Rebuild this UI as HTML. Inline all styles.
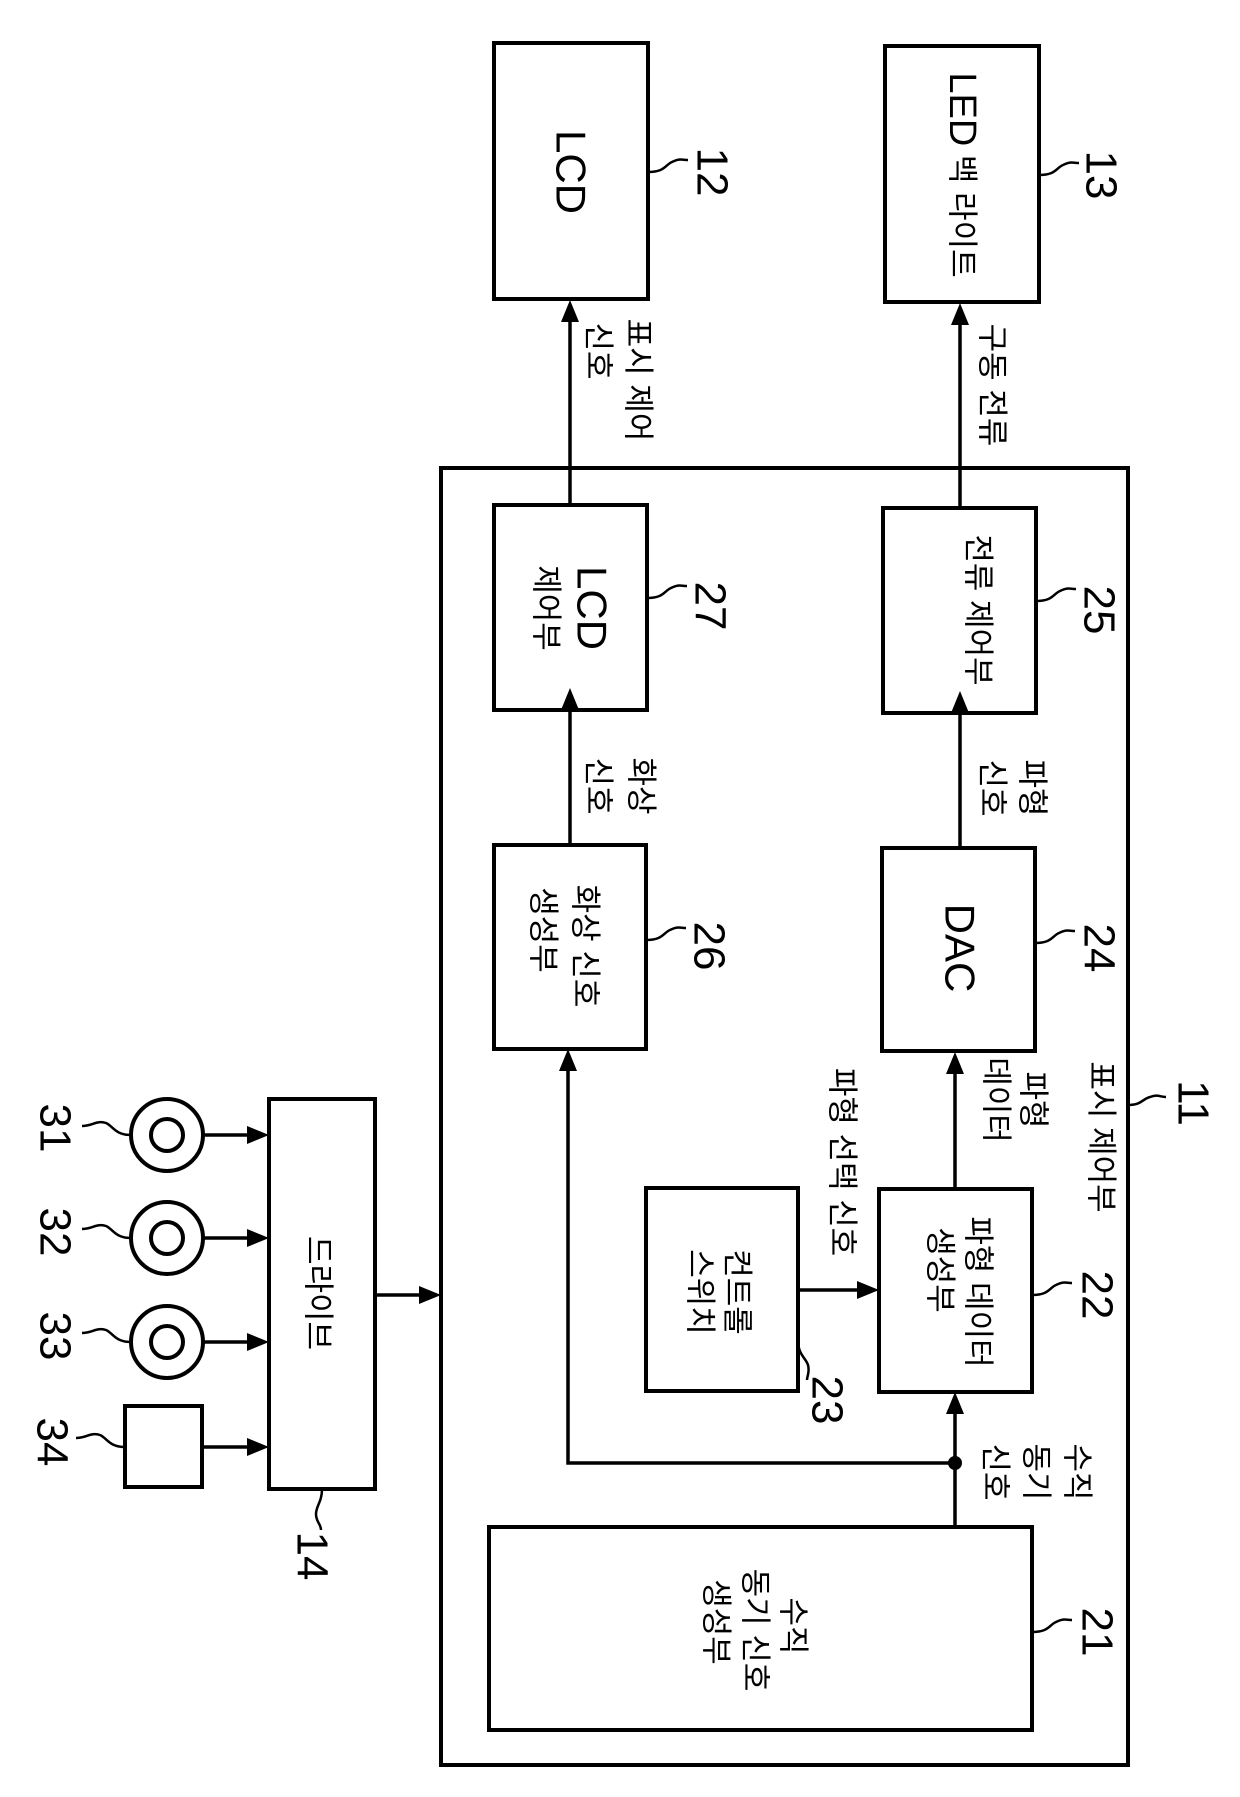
<!DOCTYPE html>
<html><head><meta charset="utf-8"><style>
html,body{margin:0;padding:0;background:#fff;}
svg{display:block;}
text{font-family:"Liberation Sans","Noto Sans CJK KR",sans-serif;fill:#000;}
.k{font-size:31px;}
.n{font-size:44px;}
</style></head><body>
<svg width="1240" height="1797" viewBox="0 0 1240 1797" xmlns="http://www.w3.org/2000/svg">
<g fill="none" stroke="#000" stroke-width="4">
<rect x="441" y="468" width="687" height="1297"/>
<rect x="494" y="43" width="154" height="256"/>
<rect x="885" y="46" width="154" height="256"/>
<rect x="494" y="505" width="153" height="205"/>
<rect x="883" y="508" width="153" height="205"/>
<rect x="494" y="845" width="152" height="204"/>
<rect x="882" y="848" width="153" height="203"/>
<rect x="879" y="1189" width="153" height="203"/>
<rect x="646" y="1188" width="152" height="203"/>
<rect x="489" y="1527" width="543" height="203"/>
<rect x="269" y="1099" width="106" height="390"/>
<rect x="125" y="1406" width="77" height="81"/>
<circle cx="167" cy="1135" r="36"/><circle cx="167" cy="1135" r="16"/>
<circle cx="167" cy="1238" r="36"/><circle cx="167" cy="1238" r="16"/>
<circle cx="167" cy="1342" r="36"/><circle cx="167" cy="1342" r="16"/>
</g>
<g stroke="#000" stroke-width="3.5" fill="none">
<line x1="570" y1="505" x2="570" y2="315"/>
<line x1="960" y1="508" x2="960" y2="318"/>
<line x1="570" y1="845" x2="570" y2="705"/>
<line x1="960" y1="848" x2="960" y2="708"/>
<line x1="955" y1="1189" x2="955" y2="1068"/>
<line x1="955" y1="1527" x2="955" y2="1409"/>
<polyline points="955,1463 568,1463 568,1066"/>
<line x1="798" y1="1290" x2="860" y2="1290"/>
<line x1="375" y1="1295" x2="422" y2="1295"/>
<line x1="203" y1="1135" x2="250" y2="1135"/>
<line x1="203" y1="1238" x2="250" y2="1238"/>
<line x1="203" y1="1342" x2="250" y2="1342"/>
<line x1="202" y1="1447" x2="250" y2="1447"/>
</g>
<g fill="#000">
<polygon points="570,300 561,322 579,322"/>
<polygon points="960,303 951,325 969,325"/>
<polygon points="570,688 561,710 579,710"/>
<polygon points="960,691 951,713 969,713"/>
<polygon points="568,1049 559,1071 577,1071"/>
<polygon points="955,1052 946,1074 964,1074"/>
<polygon points="955,1392 946,1414 964,1414"/>
<polygon points="879,1290 857,1281 857,1299"/>
<polygon points="441,1295 419,1286 419,1304"/>
<polygon points="269,1135 247,1126 247,1144"/>
<polygon points="269,1238 247,1229 247,1247"/>
<polygon points="269,1342 247,1333 247,1351"/>
<polygon points="269,1447 247,1438 247,1456"/>
<circle cx="955" cy="1463" r="7"/>
</g>
<g fill="none" stroke="#000" stroke-width="2.5">
<path d="M648,172 C665,172 665,165 672,162 C680,158 682,160 688,160"/>
<path d="M1039,175 C1056,175 1056,168 1063,165 C1071,161 1073,163 1079,163"/>
<path d="M647,598 C664,598 664,591 671,588 C679,584 681,586 687,586"/>
<path d="M1036,601 C1053,601 1053,594 1060,591 C1068,587 1070,589 1076,589"/>
<path d="M646,940 C663,940 663,933 670,930 C678,926 680,928 686,928"/>
<path d="M1035,943 C1052,943 1052,936 1059,933 C1067,929 1069,931 1075,931"/>
<path d="M1032,1295 C1049,1295 1049,1288 1056,1285 C1064,1281 1066,1283 1072,1283"/>
<path d="M1032,1632 C1049,1632 1049,1625 1056,1622 C1064,1618 1066,1620 1072,1620"/>
<path d="M1128,1105 C1142,1105 1142,1099 1150,1097 C1158,1094 1160,1097 1166,1097"/>
<path d="M798,1340 C798,1355 806,1358 808,1365 C810,1372 807,1376 807,1380"/>
<path d="M322,1489 C322,1502 316,1506 316,1514 C316,1522 321,1524 321,1530"/>
<path d="M131,1135 C115,1135 113,1126 106,1123 C97,1120 92,1126 82,1126"/>
<path d="M131,1238 C115,1238 113,1229 106,1226 C97,1223 92,1229 82,1229"/>
<path d="M131,1342 C115,1342 113,1333 106,1330 C97,1327 92,1333 82,1333"/>
<path d="M125,1447 C109,1447 107,1438 100,1435 C91,1432 86,1438 76,1438"/>
</g>
<g dominant-baseline="central" text-anchor="middle">
<text transform="translate(571,172) rotate(90)" style="font-size:42px">LCD</text>
<text transform="translate(962,175) rotate(90)" style="font-size:31px"><tspan style="font-size:38px">LED</tspan> 백 라이트</text>
<text class="n" transform="translate(712,172) rotate(90)">12</text>
<text class="n" transform="translate(1101,175) rotate(90)">13</text>
<text class="k" transform="translate(638,380) rotate(90)">표시 제어</text>
<text class="k" transform="translate(598,351) rotate(90)">신호</text>
<text class="k" transform="translate(992,385) rotate(90)">구동 전류</text>
<text transform="translate(592,608) rotate(90)" style="font-size:42px">LCD</text>
<text class="k" transform="translate(546,608) rotate(90)">제어부</text>
<text class="k" transform="translate(978,610) rotate(90)">전류 제어부</text>
<text class="n" transform="translate(710,606) rotate(90)">27</text>
<text class="n" transform="translate(1099,610) rotate(90)">25</text>
<text class="k" transform="translate(641,786) rotate(90)">화상</text>
<text class="k" transform="translate(598,786) rotate(90)">신호</text>
<text class="k" transform="translate(1032,788) rotate(90)">파형</text>
<text class="k" transform="translate(992,788) rotate(90)">신호</text>
<text class="k" transform="translate(585,946) rotate(90)">화상 신호</text>
<text class="k" transform="translate(543,930) rotate(90)">생성부</text>
<text transform="translate(960,948) rotate(90)" style="font-size:42px">DAC</text>
<text class="n" transform="translate(709,946) rotate(90)">26</text>
<text class="n" transform="translate(1099,948) rotate(90)">24</text>
<text class="k" transform="translate(1101,1137) rotate(90)">표시 제어부</text>
<text class="n" transform="translate(1193,1103) rotate(90)">11</text>
<text class="k" transform="translate(1033,1100) rotate(90)">파형</text>
<text class="k" transform="translate(996,1100) rotate(90)">데이터</text>
<text class="k" transform="translate(842,1162) rotate(90)">파형 선택 신호</text>
<text class="k" transform="translate(978,1292) rotate(90)">파형 데이터</text>
<text class="k" transform="translate(940,1270) rotate(90)">생성부</text>
<text class="n" transform="translate(1097,1295) rotate(90)">22</text>
<text class="k" transform="translate(737,1292) rotate(90)">컨트롤</text>
<text class="k" transform="translate(700,1292) rotate(90)">스위치</text>
<text class="n" transform="translate(827,1400) rotate(90)">23</text>
<text class="k" transform="translate(1077,1472) rotate(90)">수직</text>
<text class="k" transform="translate(1036,1472) rotate(90)">동기</text>
<text class="k" transform="translate(995,1472) rotate(90)">신호</text>
<text class="k" transform="translate(793,1626) rotate(90)">수직</text>
<text class="k" transform="translate(755,1630) rotate(90)">동기 신호</text>
<text class="k" transform="translate(716,1622) rotate(90)">생성부</text>
<text class="n" transform="translate(1097,1632) rotate(90)">21</text>
<text class="k" transform="translate(318,1293) rotate(90)">드라이브</text>
<text class="n" transform="translate(312,1556) rotate(90)">14</text>
<text class="n" transform="translate(55,1128) rotate(90)">31</text>
<text class="n" transform="translate(55,1232) rotate(90)">32</text>
<text class="n" transform="translate(55,1336) rotate(90)">33</text>
<text class="n" transform="translate(52,1442) rotate(90)">34</text>
</g>
</svg>
</body></html>
